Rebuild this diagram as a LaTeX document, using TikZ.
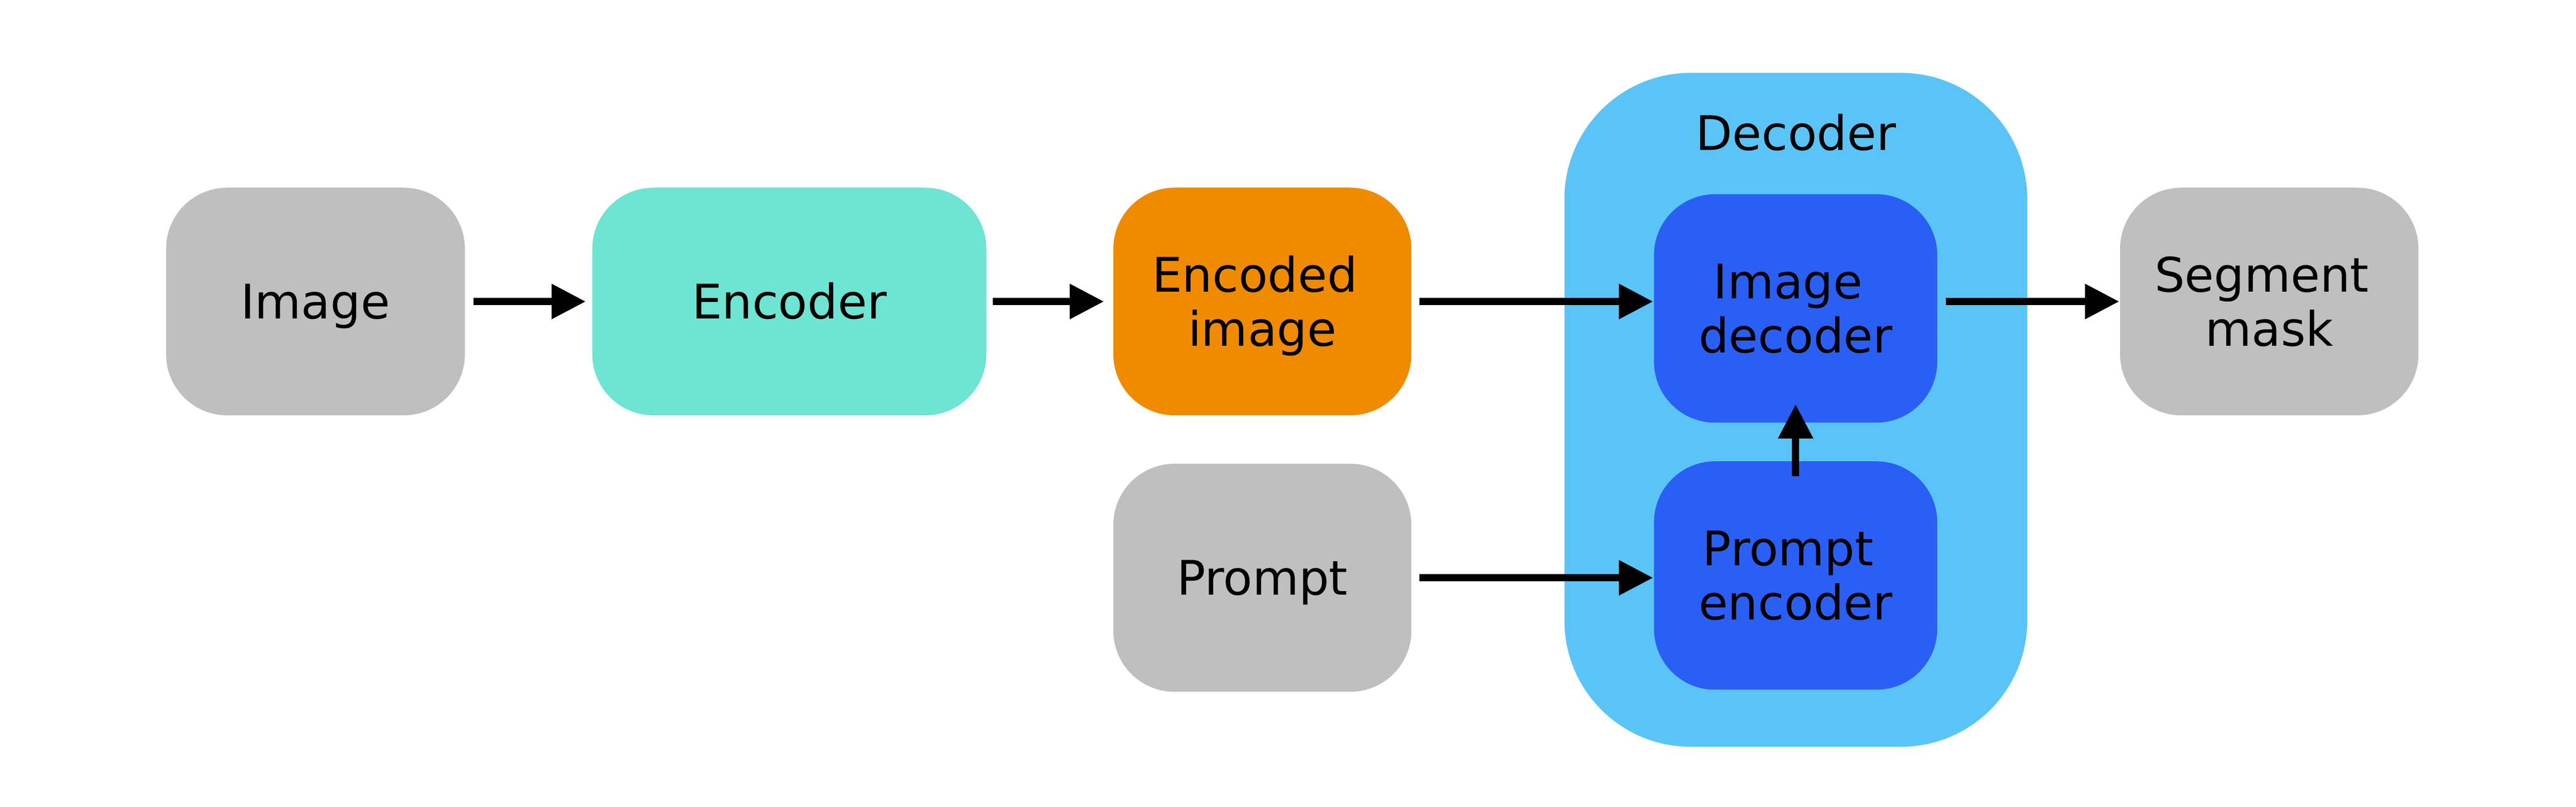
\documentclass[tikz,border=0pt]{standalone}
\usepackage{fontspec}
\setmainfont{DejaVu Sans}
\usepackage{xcolor}
\usetikzlibrary{arrows.meta}
\definecolor{boxgray}{RGB}{191,191,191}
\definecolor{enccyan}{RGB}{110,228,210}
\definecolor{codeorange}{RGB}{240,139,0}
\definecolor{declight}{RGB}{91,196,247}
\definecolor{decblue}{RGB}{42,95,245}
\tikzset{
  block/.style={rectangle,rounded corners=15pt,minimum height=55.9pt,inner sep=0pt,
    align=center,text height=8.5pt,text depth=0pt,font=\fontsize{11.7}{13.3}\selectfont},
  twoline/.style={text height=21.8pt,text depth=0pt},
  flow/.style={line width=1.8pt,-{Triangle[length=8.4pt,width=8.2pt]}},
}

\begin{document}
\begin{tikzpicture}[x=1pt,y=1pt]
  \useasboundingbox (0,0) rectangle (632.8,198.1);
  % decoder frame
  \node (dec) [fill=declight,rounded corners=31pt,minimum width=113.7pt,minimum height=165.5pt,inner sep=0pt] at (441.15,97.45) {};
  \node (declbl) [inner sep=0pt,text height=8.5pt,text depth=0pt,font=\fontsize{11.7}{13.3}\selectfont] at (441.15,165.45) {Decoder};
  % blocks
  \node (img)  [block,fill=boxgray,minimum width=73.4pt] at (77.5,124.05) {Image};
  \node (enc)  [block,fill=enccyan,minimum width=96.8pt] at (193.9,124.05) {Encoder};
  \node (encd) [block,twoline,fill=codeorange,minimum width=73.2pt] at (310.1,124.05) {Encoded\kern3.7pt\\image};
  \node (prm)  [block,fill=boxgray,minimum width=73.2pt,minimum height=56pt] at (310.1,56.2) {Prompt};
  \node (idec) [block,twoline,fill=decblue,minimum width=69.6pt,minimum height=56.1pt] at (441.1,122.35) {Image\kern3.7pt\\decoder};
  \node (penc) [block,twoline,fill=decblue,minimum width=69.6pt,minimum height=56.1pt] at (441.1,56.75) {Prompt\kern3.7pt\\encoder};
  \node (seg)  [block,twoline,fill=boxgray,minimum width=73.3pt] at (557.45,124.05) {Segment\kern3.7pt\\mask};
  \path[flow]
    (img)  edge [shorten <=1.9pt,shorten >=1.4pt] (enc)
    (enc)  edge [shorten <=1.4pt,shorten >=2.1pt] (encd)
    (encd) edge [shorten <=1.8pt] (encd -| idec.west)
    (prm)  edge [shorten <=1.8pt] (prm -| penc.west)
    (idec.east |- seg) edge [shorten <=1.9pt] (seg)
    (penc) edge [shorten <=-3.9pt,shorten >=-4.7pt] (idec);
\end{tikzpicture}
\end{document}
